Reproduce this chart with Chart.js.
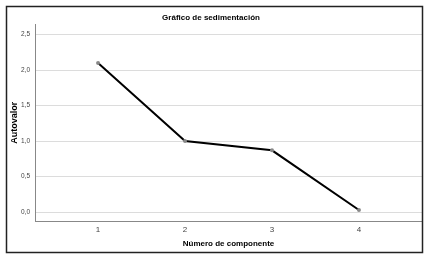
<!DOCTYPE html>
<html>
<head>
<meta charset="utf-8">
<script src="https://cdn.jsdelivr.net/npm/chart.js@4"></script>
<style>
  html, body { margin: 0; padding: 0; background: #fff; }
  #wrap { width: 431px; height: 257px; }
</style>
</head>
<body>
<div id="wrap"><canvas id="chart" width="431" height="257"></canvas></div>
<script>
'use strict';
// scree plot values
var componentes = [1, 2, 3, 4];
var autovalores = [2.1, 1.0, 0.87, 0.03];
var yTicks = [0, 0.5, 1, 1.5, 2, 2.5];

var puntos = componentes.map(function (c, i) { return { x: c, y: autovalores[i] }; });
var fuente = 'Liberation Sans, Arial, sans-serif';

// frame round the whole picture
var marco = {
  id: 'marco',
  afterDraw: function (chart) {
    var ctx = chart.ctx;
    ctx.save();
    ctx.strokeStyle = '#222';
    ctx.lineWidth = 1.5;
    ctx.strokeRect(6.5, 6.5, 416, 246);
    ctx.restore();
  }
};

var ctx = document.getElementById('chart').getContext('2d');
new Chart(ctx, {
  type: 'line',
  data: {
    datasets: [{
      data: puntos,
      borderColor: '#000',
      borderWidth: 2,
      pointRadius: 2,
      pointBackgroundColor: '#888',
      pointBorderColor: '#888',
      pointBorderWidth: 0,
      tension: 0
    }]
  },
  options: {
    responsive: false,
    animation: false,
    layout: { padding: { left: 0, right: 9, top: 0, bottom: 0 } },
    plugins: {
      legend: { display: false },
      tooltip: { enabled: false },
      title: {
        display: true,
        text: 'Gráfico de sedimentación',
        color: '#000',
        font: { family: fuente, size: 8, weight: 'bold' },
        padding: { top: 13, bottom: 2 }
      }
    },
    scales: {
      x: {
        type: 'linear',
        min: 0.275,
        max: 4.725,
        afterBuildTicks: function (s) { s.ticks = componentes.map(function (v) { return { value: v }; }); },
        afterFit: function (s) { s.height = 36; },
        grid: { display: false, drawTicks: false },
        border: { display: true, color: '#888', width: 1 },
        ticks: { color: '#444', font: { family: fuente, size: 8 }, padding: 4 },
        title: {
          display: true,
          text: 'Número de componente',
          color: '#000',
          font: { family: fuente, size: 8, weight: 'bold' },
          padding: { top: 0, bottom: 8 }
        }
      },
      y: {
        min: -0.125,
        max: 2.64,
        afterBuildTicks: function (s) { s.ticks = yTicks.map(function (v) { return { value: v }; }); },
        afterFit: function (s) { s.width = 35; },
        grid: { color: '#dcdcdc', lineWidth: 1, drawTicks: false },
        border: { display: true, color: '#888', width: 1 },
        ticks: {
          color: '#444',
          font: { family: fuente, size: 6.5 },
          padding: 5,
          callback: function (v) { return v.toFixed(1).replace('.', ','); }
        },
        title: {
          display: true,
          text: 'Autovalor',
          color: '#000',
          font: { family: fuente, size: 9, weight: 'bold' },
          padding: { top: 9, bottom: 0 }
        }
      }
    }
  },
  plugins: [marco]
});
</script>
</body>
</html>
